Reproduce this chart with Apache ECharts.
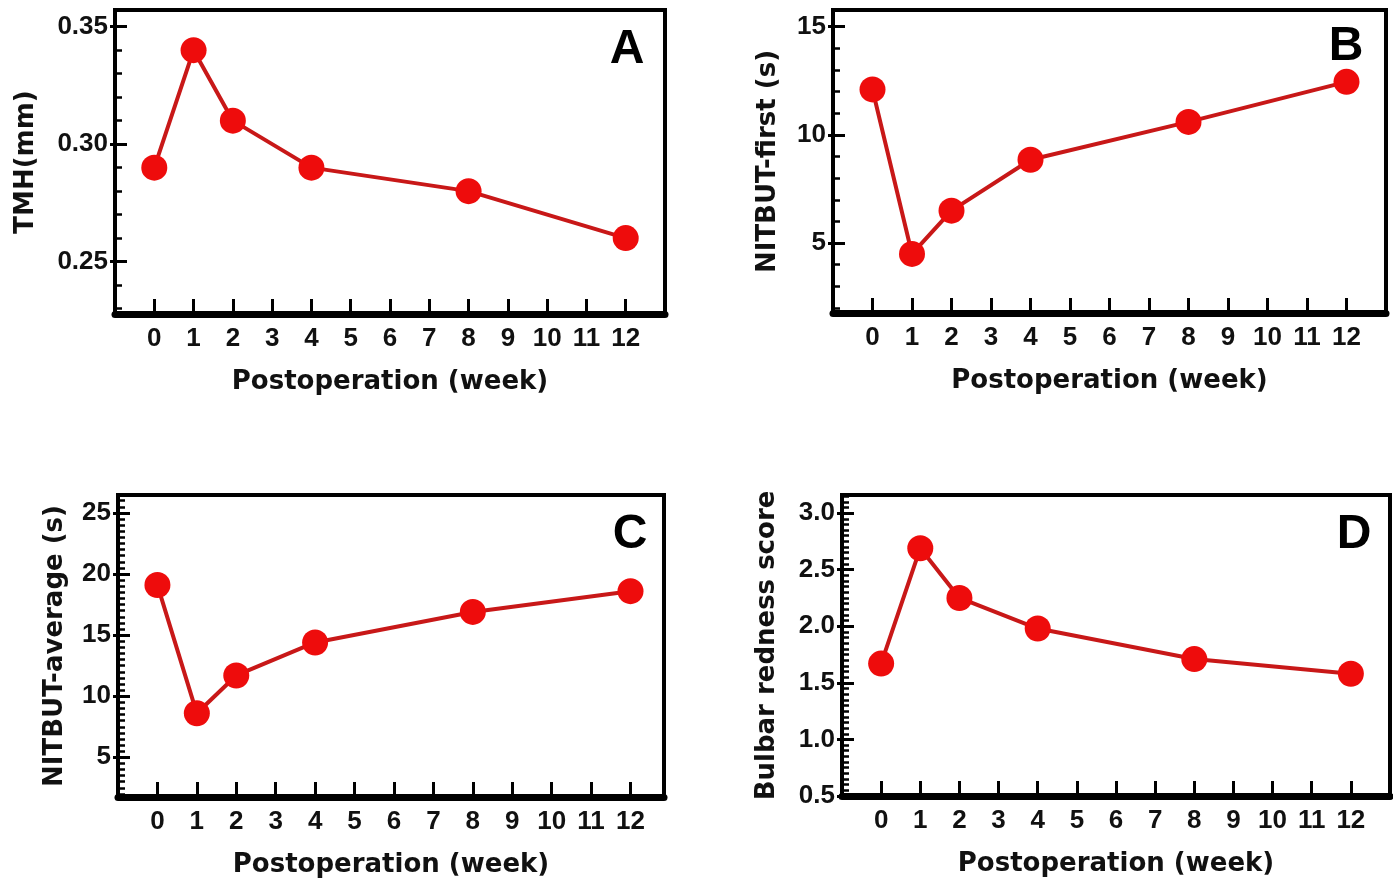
<!DOCTYPE html>
<html>
<head>
<meta charset="utf-8">
<title>Postoperation tear film</title>
<script src="https://cdn.jsdelivr.net/npm/echarts@6/dist/echarts.min.js"></script>
<style>
  html, body { margin: 0; padding: 0; background: #fff; }
  #chart { width: 1393px; height: 884px; }
</style>
</head>
<body>
<div id="chart"></div>
<script>
// weeks after the operation
const weeks = [0, 1, 2, 4, 8, 12]
const xTickLabels = [0, 1, 2, 3, 4, 5, 6, 7, 8, 9, 10, 11, 12]

// values
const tmh = [0.29, 0.34, 0.31, 0.29, 0.28, 0.26]
const nitbutFirst = [12.1, 4.5, 6.5, 8.85, 10.6, 12.45]
const nitbutAverage = [19.1, 8.6, 11.7, 14.4, 16.9, 18.6]
const bulbarRedness = [1.67, 2.69, 2.25, 1.98, 1.71, 1.58]

// labelled y ticks
const tmhTicks = [0.25, 0.30, 0.35]
const firstTicks = [5, 10, 15]
const averageTicks = [5, 10, 15, 20, 25]
const rednessTicks = [0.5, 1.0, 1.5, 2.0, 2.5, 3.0]

function steps(from, to, step) {
  const out = []
  for (let v = from; v <= to + 1e-9; v += step) out.push(+v.toFixed(4))
  return out
}

const panels = [
  {
    letter: 'A', name: 'TMH(mm)', values: tmh, ticks: tmhTicks, digits: 2,
    minors: steps(0.23, 0.35, 0.01), ymin: 0.2277, ymax: 0.3571, xmax: 13,
    grid: { left: 115, top: 10, width: 550, height: 304 }, nameGap: 76,
    letterPos: [627, 50]
  },
  {
    letter: 'B', name: 'NITBUT-first (s)', values: nitbutFirst, ticks: firstTicks, digits: 0,
    minors: steps(2, 15, 1), ymin: 1.77, ymax: 15.77, xmax: 13,
    grid: { left: 833, top: 10, width: 553, height: 303 }, nameGap: 52,
    letterPos: [1346, 47]
  },
  {
    letter: 'C', name: 'NITBUT-average (s)', values: nitbutAverage, ticks: averageTicks, digits: 0,
    minors: steps(2, 26, 0.5), ymin: 1.75, ymax: 26.47, xmax: 12.85,
    grid: { left: 118, top: 495, width: 546, height: 302 }, nameGap: 50,
    letterPos: [630, 535]
  },
  {
    letter: 'D', name: 'Bulbar redness score', values: bulbarRedness, ticks: rednessTicks, digits: 1,
    minors: steps(0.5, 3.15, 0.05), ymin: 0.5, ymax: 3.16, xmax: 13,
    grid: { left: 842, top: 495, width: 548, height: 301 }, nameGap: 62,
    letterPos: [1354, 535]
  }
]

const labelFont = { fontFamily: 'Liberation Sans', fontWeight: 'bold', fontSize: 26, color: '#111' }
const nameFont = { fontFamily: 'DejaVu Sans', fontWeight: 'bold', fontSize: 26, color: '#111' }

const grid = []
const xAxis = []
const yAxis = []
const series = []
const graphic = []

panels.forEach((p, i) => {
  grid.push(Object.assign({ show: true, borderColor: '#000', borderWidth: 4, backgroundColor: '#fff' }, p.grid))

  xAxis.push({
    type: 'value', gridIndex: i, min: -1, max: p.xmax,
    name: 'Postoperation (week)', nameLocation: 'middle', nameGap: 55, nameTextStyle: nameFont,
    axisLine: { onZero: false, lineStyle: { color: '#000', width: 7 } },
    axisTick: { customValues: xTickLabels, inside: true, length: 15, lineStyle: { color: '#000', width: 3 } },
    axisLabel: Object.assign({ customValues: xTickLabels, margin: 12 }, labelFont),
    splitLine: { show: false }
  })

  const base = yAxis.length
  // labels + short outer part of major ticks
  yAxis.push({
    type: 'value', gridIndex: i, position: 'left', min: p.ymin, max: p.ymax,
    name: p.name, nameLocation: 'middle', nameGap: p.nameGap, nameTextStyle: nameFont,
    axisLine: { show: true, onZero: false, lineStyle: { color: '#000', width: 4 } },
    axisTick: { customValues: p.ticks, inside: false, length: 5, lineStyle: { color: '#000', width: 3 } },
    axisLabel: Object.assign({
      customValues: p.ticks, margin: 7,
      formatter: v => v.toFixed(p.digits)
    }, labelFont),
    splitLine: { show: false }
  })
  // inner part of major ticks
  yAxis.push({
    type: 'value', gridIndex: i, position: 'left', min: p.ymin, max: p.ymax,
    axisLine: { show: false, onZero: false },
    axisTick: { customValues: p.ticks, inside: true, length: 12, lineStyle: { color: '#000', width: 3 } },
    axisLabel: { show: false }, splitLine: { show: false }
  })
  // minor ticks
  yAxis.push({
    type: 'value', gridIndex: i, position: 'left', min: p.ymin, max: p.ymax,
    axisLine: { show: false, onZero: false },
    axisTick: { customValues: p.minors, inside: true, length: 7, lineStyle: { color: '#000', width: 2.5 } },
    axisLabel: { show: false }, splitLine: { show: false }
  })

  series.push({
    type: 'line', xAxisIndex: i, yAxisIndex: base,
    data: weeks.map((w, k) => [w, p.values[k]]),
    symbol: 'circle', symbolSize: 26,
    lineStyle: { color: '#c81818', width: 4 },
    itemStyle: { color: '#ee0c0c' },
    z: 5
  })

  graphic.push({
    type: 'text', x: p.letterPos[0], y: p.letterPos[1], z: 10,
    style: {
      text: p.letter, fill: '#000', align: 'center', verticalAlign: 'middle',
      font: 'bold 48px "Liberation Sans"'
    }
  })
})

const chart = echarts.init(document.getElementById('chart'))
chart.setOption({
  animation: false,
  backgroundColor: '#fff',
  grid, xAxis, yAxis, series, graphic
})
</script>
</body>
</html>
